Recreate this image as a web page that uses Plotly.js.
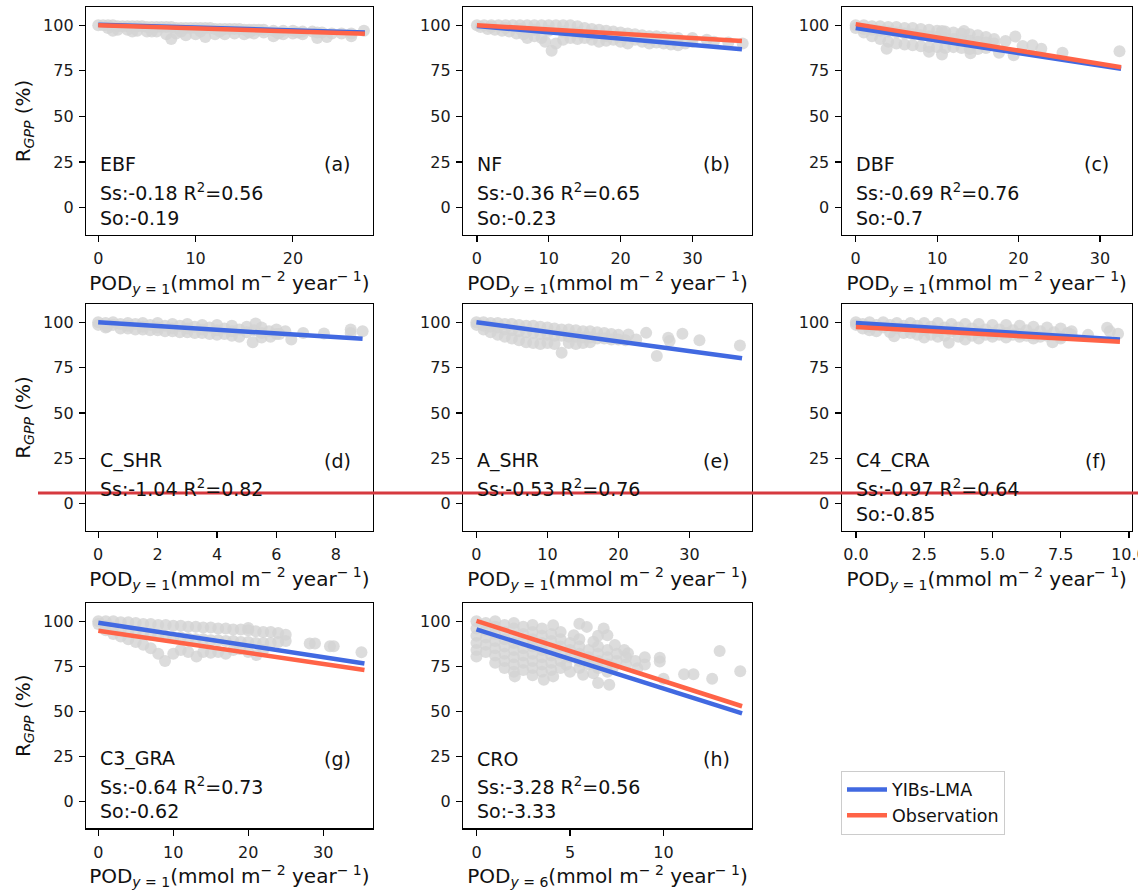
<!DOCTYPE html>
<html>
<head>
<meta charset="utf-8">
<script src="https://cdn.plot.ly/plotly-3.0.1.min.js"></script>
<style>html,body{margin:0;padding:0;background:#fff;}#chart{width:1138px;height:894px;}</style>
</head>
<body>
<div id="chart"></div>
<script>
// ---------- panel labels ----------
const panelNames = ['EBF', 'NF', 'DBF', 'C_SHR', 'A_SHR', 'C4_CRA', 'C3_GRA', 'CRO'];
const panelLetters = ['(a)', '(b)', '(c)', '(d)', '(e)', '(f)', '(g)', '(h)'];
const ssValues = ['-0.18', '-0.36', '-0.69', '-1.04', '-0.53', '-0.97', '-0.64', '-3.28'];
const r2Values = ['0.56', '0.65', '0.76', '0.82', '0.76', '0.64', '0.73', '0.56'];
const soValues = ['-0.19', '-0.23', '-0.7', null, null, '-0.85', '-0.62', '-3.33'];
const podSub = ['1', '1', '1', '1', '1', '1', '1', '6'];
const xTickStep = [10, 10, 10, 2, 10, 2.5, 10, 5];
const yTicks = [0, 25, 50, 75, 100];

// ---------- regression lines (x from 0 to xEnd) ----------
const xEnd = [27.4, 36.9, 32.6, 8.9, 37.4, 9.67, 35.5, 14.2];
const modelStart = [100.3, 99.6, 98.5, 100.0, 100.0, 99.6, 99.2, 95.5];
const modelEnd = [96.0, 86.8, 76.1, 90.8, 80.1, 90.5, 76.6, 48.8];
const obsStart = [100.0, 100.0, 100.6, null, null, 97.3, 94.7, 100.2];
const obsEnd = [95.3, 91.4, 77.0, null, null, 89.2, 72.9, 52.8];

// ---------- grey scatter clouds [x, y] ----------
const ptsEBF = [[0,100],[0.5,100],[1,100],[1.5,100],[2,99.5],[2.5,99.5],[3,99.5],[3.5,99.5],[4,99.5],[4.5,99.5],
 [5,99],[5.5,99],[6,99],[6.5,99],[7,99],[7.5,99],[8,98.5],[8.5,98.5],[9,98.5],[9.5,98.5],
 [10,98.5],[10.5,98.5],[11,98.5],[11.5,98.5],[12,98],[12.5,98],[13,98],[13.5,98],[14,98],[14.5,98],
 [15,97.5],[15.5,97.5],[16,97.5],[16.5,97.5],[17,97.5],[18,97],[19,97],[20,97],[21,96.5],[22,96.5],
 [22.5,96],[23,96],[24,95.5],[25,95.5],[26,95.5],[27.3,97],
 [1,98.5],[2,97.5],[3,97.5],[4,97],[5,96.5],[6,96.5],[7,95],[7.5,92.5],[8,95.5],[9,94.5],
 [10,95],[11,93.5],[12,95],[13,95],[14,95.5],[15,95],[16,95.5],[17,96],[18,94],[19,95],
 [20,95.5],[21,95],[22.5,93],[23.5,93.5],[26,94],
 [1.5,97],[3.5,96.5],[5.5,96.5],[8.5,96.5],[10.5,96.5],[12.5,96.5],[15.5,96],[18.5,95.5],[20.5,96]];

const ptsNF = [[0,100],[1,100],[2,100],[3,100],[4,100],[5,100],[6,100],[7,100],[8,100],[9,100],
 [10,100],[11,100],[12,100],[13,100],[14,99.5],[15,98.5],[16,98],[17,97.5],[18,97],[19,96.5],
 [20,96],[21,95.5],[22,95],[23,94.5],[24,94],[25,94],[26,93.5],[27,93],[28,93],[30,93],[32,92],[37,90],
 [0.5,99],[1.5,98],[2.5,97.5],[3.5,97],[4.5,96.5],[5.5,95.5],[6.5,95],[7,93],[8,94],[9,93],
 [9.5,91],[10.4,86],[11,90],[12,92],[13,93],[14,92.5],[15,93],[16,92],[17,91],[18,91.5],
 [19,92],[20,91],[21,90],[22,92],[23,91],[24,90],[25,90.5],[26,90],[27,89.5],[28,89],[29,90],
 [2,99],[4,98.5],[6,98],[8,97.5],[10,97],[12,96.5],[14,96],[16,95],[18,94],[20,93.5],
 [24,92.5],[30,91],[33,91],[35,90.5]];

const ptsDBF = [[0,100],[1,100],[2,99.5],[3,99.5],[4,99],[5,99],[6,98.5],[7,98.5],[8,98],[9,97.5],
 [10,97],[11,96.5],[12,96],[13,95.5],[14,95],[15,94.5],[16,93.5],[17,92.5],
 [0,98.5],[1,98],[2,97.5],[3,97],[4,96.5],[5,96],[6,95.5],[7,95],[8,94.5],[9,94],
 [10,93.5],[11,93],[12,92.5],[13,92],[14,91.5],[15,91],[16,90.5],[17,90],
 [1,96],[2,94],[3,92.5],[4,91],[5,90],[6,89.5],[7,89],[8,88.5],[9,88],[10,88],
 [11,87.5],[12,88],[13,87.5],[14,87],[15,87],[16,87.5],
 [32.4,85.8],[19.4,83.5],[19.6,93.8],[18.4,91.4],[21.7,89],[22.8,87.1],[25.4,84.9],[13.3,96.9],
 [3.8,87.1],[9,85.5],[10.6,84],[14.1,84.6],[17.6,84.9],[20.5,88.6],[10.6,96.9]];

const ptsCSHR = [[0,100],[0.5,100],[1,99.5],[1.5,99.5],[2,99.5],[2.5,99],[3,99],[3.5,98.5],[4,98.5],[4.5,98],
 [5,97.5],[5.5,97],[6,96],[6.3,95],
 [0,98.5],[0.5,98.5],[1,98],[1.5,97.5],[2,97],[2.5,96.5],[3,96.5],[3.5,96],[4,95.5],[4.5,95],
 [5,94.5],[5.5,94],[6,93.5],
 [0.3,97.5],[1,96.5],[1.5,96],[2,95.5],[2.5,95],[3,94.5],[3.5,94],[4,93],[4.5,92.5],[5.2,89],[5.8,92],
 [0.25,99.5],[0.75,99],[1.25,99],[1.75,98.5],[2.25,98],[2.75,98],[3.25,97.5],[3.75,97],[4.25,96.5],
 [4.75,96],[5.25,95.5],[5.75,95],[0.25,97],[0.75,96.5],[1.25,96],[1.75,95.5],[2.25,95],[2.75,94.5],
 [3.25,94],[3.75,93.5],[4.25,93.5],[4.75,92],[5.5,91.5],[6.1,93.5],
 [5.3,99.3],[6.5,90.5],[6.9,94],[7.6,93.8],[8.5,96],[8.9,95],[8.5,94]];

const ptsASHR = [[0,100],[1,100],[2,99.5],[3,99.5],[4,99],[5,99],[6,98.5],[7,98],[8,98],[9,97.5],
 [10,97],[11,96.5],[12,96],[13,96],[14,95.5],[15,95],[16,95],[17,94.5],[18,94],[19,93.5],[20,93],
 [0,98.5],[1,98],[2,97.5],[3,97],[4,96],[5,95.5],[6,95],[7,94.5],[8,94],[9,93.5],
 [10,93],[11,92.5],[12,92.5],[13,92],[14,92],[15,91.5],[16,91.5],[17,91],[18,91],[19,90.5],[20,90.5],[21,90],
 [1,96],[2,94.5],[3,93],[4,92],[5,91],[6,90],[7,89],[8,88.5],[9,88],[10,88.5],
 [11,88],[13,88.5],[14,88],[15,88.5],[16,89],
 [23.9,94.1],[27,91.4],[27.2,89.6],[29,93.6],[31.4,90.1],[37.1,87.2],[25.4,81.4],[12,83.2],
 [21.4,93.2],[22.5,90.5]];

const ptsC4CRA = [[0,100],[0.5,100],[1,100],[1.5,99.5],[2,99.5],[2.5,99.5],[3,99.5],[3.5,99],[4,99],[4.5,99],
 [5,98.5],[5.5,98.5],[6,98],[6.5,97.5],[7,97],[7.5,96.5],
 [0,98.5],[0.5,97.5],[1,97],[1.5,96.5],[2,96],[2.5,95.5],[3,95],[3.5,95],[4,94.5],[4.5,94.5],
 [5,94],[5.5,94],[6,93.5],[6.5,93],[7,92.5],[7.5,92],
 [0.5,95.5],[1.4,92.3],[2,94],[2.5,91.5],[3,92],[3.4,88.7],[4,90.5],[4.5,91],[5,92],[5.5,91.5],
 [6,92],[6.5,91],[7.2,89],[7.9,95],[7.9,93],
 [0.25,99],[0.75,98.5],[1.25,98.5],[1.75,98],[2.25,98],[2.75,97.5],[3.25,97],[3.75,97],[4.25,96.5],
 [4.75,96],[5.25,96],[5.75,95.5],[6.25,95.5],[6.75,95],[7.25,94.5],[7.75,94],
 [0.25,96.5],[0.75,95],[1.25,94.5],[1.75,94],[2.25,93],[2.75,93],[3.25,92.5],[3.75,92],[4.25,92.5],
 [4.75,93],[5.25,93],[5.75,93],[6.25,92.5],[6.75,92],[7.5,91],
 [9.2,96.9],[9.3,95],[9.6,93.6],[8.5,93]];

const ptsC3GRA = [[0,100],[1,100],[2,100],[3,99.5],[4,99.5],[5,99],[6,98.5],[7,98.5],[8,98],[9,98],
 [10,97.5],[11,97.5],[12,97],[13,97],[14,96.5],[15,96.5],[16,96],[17,96],[18,95.5],[19,95.5],
 [20,95],[21,94.5],[22,94],[23,94],[24,93.5],[25,92.5],
 [0,98.5],[1,97.5],[2,96.5],[3,95.5],[4,94.5],[5,94],[6,93],[7,92.5],[8,92],[9,91.5],
 [10,91],[11,91],[12,90.5],[13,90],[14,90],[15,89.5],[16,89.5],[17,89],[18,89],[19,88.5],
 [20,88.5],[21,88],[22,88],[23,88],[24,88.5],[25,89],
 [1,95],[2,93],[3,91.5],[4,90],[5,88.5],[6,87],[7,85],[8,82],[8.9,78],[10,82],
 [11,84],[12,83],[13.1,80.4],[14,83],[15,82.5],[16,83],[17,82],[18,84],[18.9,84.6],[20,83],
 [21.1,81.3],[22,84],
 [28.2,87.7],[28.9,87.7],[30.9,86.2],[31.4,86.2],[35.1,82.8],[20,96.3]];

const ptsCRO = [[0,100],[0,96],[0,92],[0,88],[0,84],[0,80.4],
 [0.5,99],[0.5,95],[0.5,91],[0.5,87],[0.5,83],
 [1,100],[1,97],[1,93],[1,89],[1,85],[1,81],[1,77],
 [1.5,98],[1.5,94],[1.5,90],[1.5,86],[1.5,82],[1.5,78],[1.5,74],
 [2,99],[2,96],[2,92],[2,88],[2,84],[2,80],[2,76],[2,72],[2.05,69.4],
 [2.5,97],[2.5,93],[2.5,89],[2.5,85],[2.5,81],[2.5,77],[2.5,73],
 [3,98],[3,94],[3,90],[3,86],[3,82],[3,78],[3,74],[3,70],
 [3.5,96],[3.5,92],[3.5,88],[3.5,84],[3.5,80],[3.5,76],[3.5,72],[3.6,67.5],
 [4.1,97.8],[4,93],[4,89],[4,85],[4,81],[4,77],[4,73],[4.1,69.4],
 [4.5,94],[4.5,90],[4.5,86],[4.5,82],[4.5,78],[4.5,74],
 [5.2,92.3],[5,88],[5,84],[5,80],[4.8,75.8],[5,72],
 [5.5,98.7],[5.5,90],[5.5,86],[5.5,82],[5.5,78],[5.5,74],[5.7,70.3],
 [5.9,96.9],[6.25,88.6],[6,84],[6,80],[6,76],[6.25,71.2],
 [6.5,92],[6.5,86],[6.5,82],[6.5,78],[6.5,74],[6.5,65.7],
 [6.8,96],[7,92.3],[7,84],[7,80],[7,76],[7,72],[7.1,64.8],
 [7.4,86.8],[7.5,82],[7.5,78],[7.3,74.3],
 [7.9,84],[8,80],[8,76],[8.6,73.9],
 [8.1,82.2],[8.5,78],[9,80],[9,76],
 [9.8,79.8],[9.8,77.6],[10,68.1],[11.1,70.6],[11.6,70.6],[12.6,68.1],[13,83.5],[14.1,72.3]];

const pointSets = [ptsEBF, ptsNF, ptsDBF, ptsCSHR, ptsASHR, ptsC4CRA, ptsC3GRA, ptsCRO];

// ---------- axis ranges ----------
const xRanges = [[-1.26, 28.2], [-1.94, 38.3], [-1.72, 33.9], [-0.41, 9.24], [-1.89, 38.8], [-0.52, 10.1], [-1.64, 36.6], [-0.72, 14.73]];
const yRange = [-15, 110];

// ---------- geometry (paper fractions) ----------
const W = 1138, H = 894;
const colPx = [[86, 372.7], [463, 752], [841.7, 1131.7]];
const rowPx = [[7, 235], [304, 531], [603.3, 828.3]];

const BLUE = '#4169E1', RED = '#FF6347';
const FAM = 'DejaVu Sans';
const tickFont = {family: FAM, size: 16, color: '#1a1a1a'};
const textFont = {family: FAM, size: 19, color: '#111'};
const xTitleFont = {family: FAM, size: 20, color: '#111'};
const yTitleFont = {family: FAM, size: 20, color: '#111'};

const traces = [];
const layout = {
  width: W, height: H,
  margin: {l: 0, r: 0, t: 0, b: 0},
  paper_bgcolor: '#fff', plot_bgcolor: '#fff',
  showlegend: true,
  legend: {
    x: 841 / W, y: 1 - 770.5 / H, xanchor: 'left', yanchor: 'top',
    bgcolor: '#fff', bordercolor: '#cccccc', borderwidth: 1,
    font: {family: FAM, size: 17.5, color: '#111'},
    itemwidth: 40, tracegroupgap: 0
  },
  annotations: [],
  shapes: [{
    type: 'line', xref: 'paper', yref: 'paper',
    x0: 38 / W, x1: 1, y0: 1 - 493 / H, y1: 1 - 493 / H,
    line: {color: '#d6393f', width: 3}
  }]
};

for (let i = 0; i < 8; i++) {
  const k = i + 1;
  const sfx = k === 1 ? '' : String(k);
  const col = i % 3, row = Math.floor(i / 3);
  const xa = 'x' + sfx, ya = 'y' + sfx;
  const pts = pointSets[i];

  traces.push({
    type: 'scatter', mode: 'markers', xaxis: xa, yaxis: ya,
    x: pts.map(p => p[0]), y: pts.map(p => p[1]),
    marker: {color: '#d3d3d3', size: 12, opacity: 0.8, line: {width: 0}},
    showlegend: false, hoverinfo: 'skip'
  });
  traces.push({
    type: 'scatter', mode: 'lines', xaxis: xa, yaxis: ya,
    x: [0, xEnd[i]], y: [modelStart[i], modelEnd[i]],
    line: {color: BLUE, width: 4.5},
    name: 'YIBs-LMA', legendgroup: 'm', showlegend: i === 0
  });
  if (obsStart[i] !== null) {
    traces.push({
      type: 'scatter', mode: 'lines', xaxis: xa, yaxis: ya,
      x: [0, xEnd[i]], y: [obsStart[i], obsEnd[i]],
      line: {color: RED, width: 4.5},
      name: 'Observation', legendgroup: 'o', showlegend: i === 0
    });
  }

  layout['xaxis' + sfx] = {
    domain: [colPx[col][0] / W, colPx[col][1] / W],
    anchor: ya, range: xRanges[i], dtick: xTickStep[i], tick0: 0,
    tickformat: xTickStep[i] === 2.5 ? '.1f' : '',
    showline: true, mirror: true, linecolor: '#000', linewidth: 1.2,
    ticks: 'outside', ticklen: 6, tickwidth: 1.2, tickcolor: '#000',
    showgrid: false, zeroline: false, tickfont: tickFont,
    ticklabelstandoff: 3, ticklabeloverflow: 'allow',
    title: {text: 'POD<sub><i>y</i> = ' + podSub[i] + '</sub>(mmol m<sup>− 2</sup> year<sup>− 1</sup>)',
            font: xTitleFont, standoff: 5},
    automargin: false
  };
  layout['yaxis' + sfx] = {
    domain: [1 - rowPx[row][1] / H, 1 - rowPx[row][0] / H],
    anchor: xa, range: yRange, tickvals: yTicks,
    showline: true, mirror: true, linecolor: '#000', linewidth: 1.2,
    ticks: 'outside', ticklen: 6, tickwidth: 1.2, tickcolor: '#000',
    showgrid: false, zeroline: false, tickfont: tickFont,
    ticklabelstandoff: 2,
    title: col === 0 ? {text: 'R<sub><i>GPP</i></sub> (%)', font: yTitleFont, standoff: 7} : {text: ''},
    automargin: false
  };

  const xr = xa + ' domain', yr = ya + ' domain';
  layout.annotations.push({xref: xr, yref: yr, x: 0.042, y: 0.31, xanchor: 'left', yanchor: 'middle',
    text: panelNames[i], showarrow: false, font: textFont});
  layout.annotations.push({xref: xr, yref: yr, x: 0.042, y: 0.19, xanchor: 'left', yanchor: 'middle',
    text: 'Ss:' + ssValues[i] + ' R<sup>2</sup>=' + r2Values[i], showarrow: false, font: textFont});
  if (soValues[i] !== null) {
    layout.annotations.push({xref: xr, yref: yr, x: 0.042, y: 0.075, xanchor: 'left', yanchor: 'middle',
      text: 'So:' + soValues[i], showarrow: false, font: textFont});
  }
  layout.annotations.push({xref: xr, yref: yr, x: 0.877, y: 0.31, xanchor: 'center', yanchor: 'middle',
    text: panelLetters[i], showarrow: false, font: textFont});
}

Plotly.newPlot('chart', traces, layout, {displayModeBar: false, staticPlot: true});
</script>
</body>
</html>
